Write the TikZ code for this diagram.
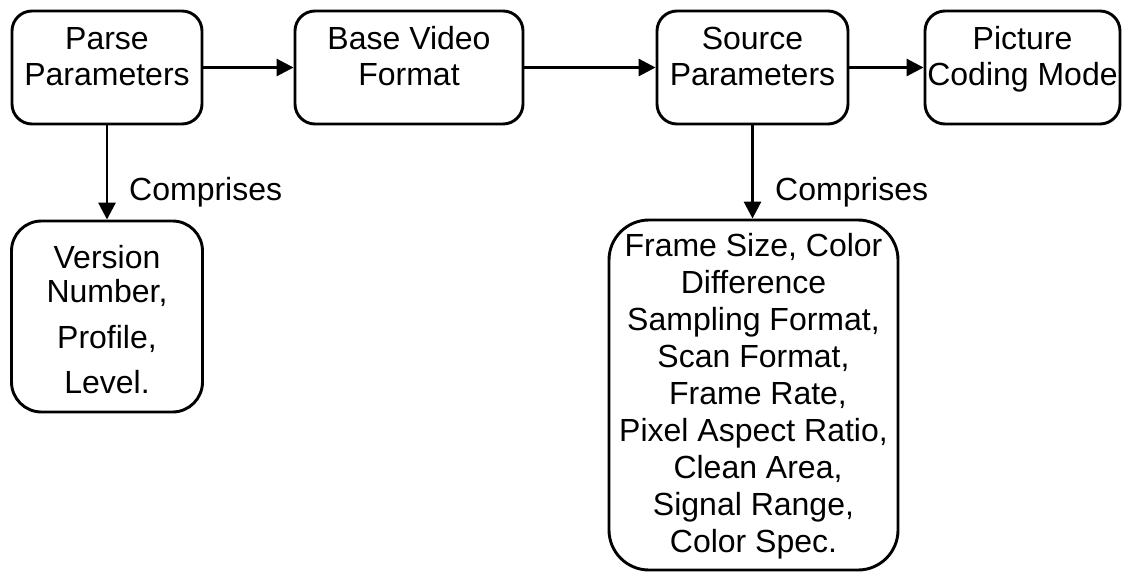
\documentclass[tikz,border=0pt]{standalone}
\usepackage{fontspec}
\setmainfont{Liberation Sans}
\usetikzlibrary{arrows.meta}
\newcommand\boxtext[3]{\parbox[c][#1][t]{#2}{\centering #3}}
\begin{document}
\begin{tikzpicture}[x=1pt,y=-1pt,
  every node/.style={font=\fontsize{32pt}{36pt}\selectfont},
  box/.style={draw=black, line width=2.9pt, inner sep=0pt, rectangle},
  conn/.style={line width=2.9pt, -{Triangle[length=17pt,width=17pt]}},
  lbl/.style={inner sep=0pt, anchor=base west}
]
\useasboundingbox (0,0) rectangle (1123,573);
\node[box, rounded corners=20pt, minimum width=190pt, minimum height=113pt] (pp) at (107,67.5)
  {\boxtext{113pt}{190pt}{\rule{0pt}{38pt}Parse\\Parameters}};
\node[box, rounded corners=20pt, minimum width=228pt, minimum height=113pt] (bv) at (409,67.5)
  {\boxtext{113pt}{228pt}{\rule{0pt}{38pt}Base Video\\Format}};
\node[box, rounded corners=20pt, minimum width=191pt, minimum height=113pt] (sp) at (752.5,67.5)
  {\boxtext{113pt}{191pt}{\rule{0pt}{38pt}Source\\Parameters}};
\node[box, rounded corners=20pt, minimum width=195pt, minimum height=113pt] (pc) at (1022.5,67.5)
  {\boxtext{113pt}{195pt}{\rule{0pt}{38pt}Picture\\Coding Mode}};
\node[box, rounded corners=30pt, minimum width=191pt, minimum height=191pt] (vn) at (107,316.5)
  {\boxtext{191pt}{191pt}{\rule{0pt}{47pt}Version\\[-2pt]Number,\\[10pt]Profile,\\[9pt]Level.}};
\node[box, rounded corners=40pt, minimum width=289pt, minimum height=350pt] (fs) at (753.5,395)
  {\boxtext{350pt}{289pt}{\fontsize{32pt}{37pt}\selectfont\rule{0pt}{36.5pt}Frame Size, Color\\Difference\\Sampling Format,\\Scan Format,\\\hspace*{9pt}Frame Rate,\\Pixel Aspect Ratio,\\\hspace*{9pt}Clean Area,\\Signal Range,\\Color Spec.}};
\draw[conn] (pp.east) -- (bv.west);
\draw[conn] (bv.east) -- (sp.west);
\draw[conn] (sp.east) -- (pc.west);
\draw[conn] (pp.south) -- (pp.south |- vn.north);
\draw[conn] (sp.south) -- (sp.south |- fs.north);
\node[lbl] (c1) at (129,200) {Comprises};
\node[lbl] (c2) at (775,200) {Comprises};
\end{tikzpicture}
\end{document}
